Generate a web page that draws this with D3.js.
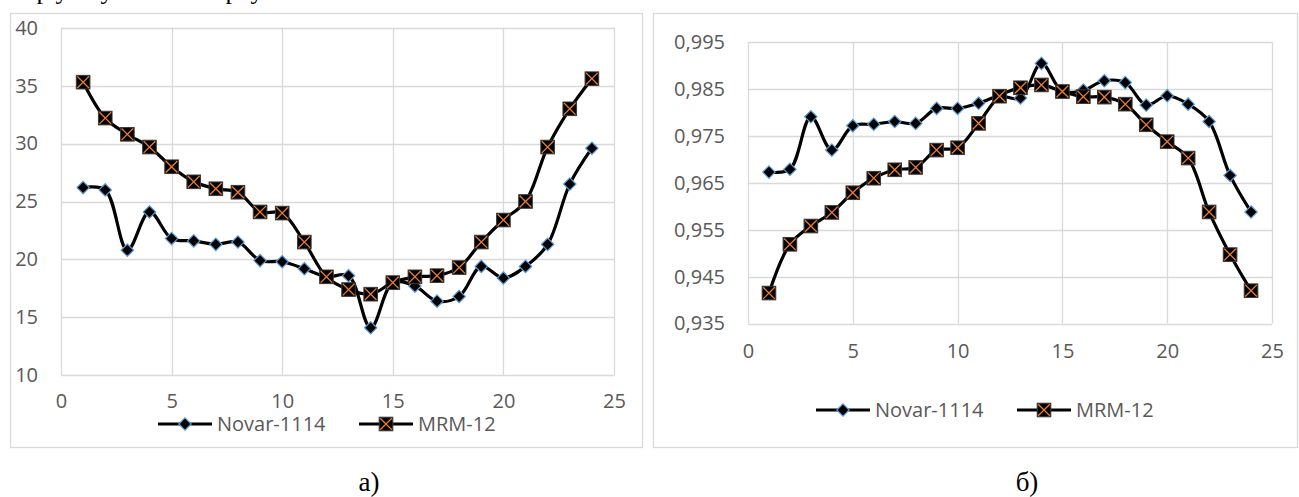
<!DOCTYPE html>
<html><head><meta charset="utf-8">
<script src="https://cdn.jsdelivr.net/npm/d3@7"></script>
<style>
html,body{margin:0;padding:0;background:#fff;}
svg{display:block;}
</style></head>
<body>
<svg id="chart" width="1299" height="497"></svg>
<script>
// ---- data ----
const hours = d3.range(1, 25);
const seriesNames = ["Novar-1114", "MRM-12"];
// panel a)
const novarA = [26.2,26.0,20.8,24.1,21.8,21.6,21.3,21.5,19.9,19.8,19.2,18.5,18.6,14.1,18.0,17.7,16.4,16.8,19.4,18.4,19.4,21.3,26.5,29.6];
const mrmA   = [35.3,32.2,30.8,29.7,28.0,26.7,26.1,25.8,24.1,24.0,21.5,18.5,17.4,17.0,18.0,18.5,18.6,19.3,21.5,23.4,25.0,29.7,33.0,35.6];
// panel б)
const novarB = [0.9673,0.9679,0.9791,0.9720,0.9772,0.9775,0.9781,0.9777,0.9809,0.9809,0.9820,0.9835,0.9831,0.9905,0.9845,0.9848,0.9868,0.9864,0.9816,0.9836,0.9818,0.9781,0.9666,0.9588];
const mrmB   = [0.9415,0.9519,0.9558,0.9587,0.9629,0.9660,0.9678,0.9683,0.9720,0.9725,0.9777,0.9835,0.9853,0.9859,0.9845,0.9834,0.9833,0.9818,0.9774,0.9738,0.9703,0.9588,0.9497,0.9420];
const xTicks = [0,5,10,15,20,25];
const yTicksA = [10,15,20,25,30,35,40];
const yTicksB = [0.935,0.945,0.955,0.965,0.975,0.985,0.995];
const captions = ["а)", "б)"];

const svg = d3.select("#chart");
const GRID = "#d9d9d9", TXT = "#595959", FONT = "'Open Sans', 'Liberation Sans', sans-serif";

// cropped line of body text above the charts (only descenders visible)
const topFrag = [["р",43],["у",62],["у",107],["р",232],["у",257]];
svg.selectAll("text.topfrag").data(topFrag).join("text")
  .attr("class","topfrag").attr("x",d=>d[1]).attr("y",-1)
  .attr("text-anchor","middle").attr("font-family","'Liberation Serif', serif")
  .attr("font-size",26).attr("fill","#000").text(d=>d[0]);

function panel(cfg){
  const g = svg.append("g");
  g.append("rect").attr("x",cfg.bx+0.5).attr("y",13.5).attr("width",cfg.bw).attr("height",434)
    .attr("fill","#fff").attr("stroke",GRID).attr("stroke-width",1.3);
  const x = d3.scaleLinear().domain([0,25]).range(cfg.xr);
  const y = d3.scaleLinear().domain(cfg.yd).range(cfg.yr);
  // gridlines
  g.append("g").selectAll("line").data(cfg.yTicks).join("line")
    .attr("x1",x(0)).attr("x2",x(25)).attr("y1",d=>Math.round(y(d))+0.5).attr("y2",d=>Math.round(y(d))+0.5)
    .attr("stroke",GRID).attr("stroke-width",1.3);
  g.append("g").selectAll("line").data(xTicks).join("line")
    .attr("y1",y(cfg.yd[0])).attr("y2",y(cfg.yd[1])).attr("x1",d=>Math.round(x(d))+0.5).attr("x2",d=>Math.round(x(d))+0.5)
    .attr("stroke",GRID).attr("stroke-width",1.3);
  // axes with d3 axis generators (labels only)
  const yAxis = d3.axisLeft(y).tickValues(cfg.yTicks).tickSize(0).tickPadding(cfg.yPad).tickFormat(cfg.fmt);
  const ya = g.append("g").attr("transform",`translate(${x(0)},0)`).call(yAxis);
  const xAxis = d3.axisBottom(x).tickValues(xTicks).tickSize(0).tickPadding(cfg.xPad).tickFormat(d3.format("d"));
  const xa = g.append("g").attr("transform",`translate(0,${y(cfg.yd[0])})`).call(xAxis);
  [ya,xa].forEach(a=>{
    a.select(".domain").remove();
    a.selectAll("text").attr("font-family",FONT).attr("font-size",20).attr("fill",TXT);
  });
  // series
  const line = d3.line().x((d,i)=>x(hours[i])).y(d=>y(d)).curve(d3.curveCatmullRom.alpha(0.5));
  [cfg.novar, cfg.mrm].forEach(vals=>{
    g.append("path").datum(vals).attr("d",line).attr("fill","none").attr("stroke","#000").attr("stroke-width",3.2);
  });
  const gm = g.append("g");
  cfg.novar.forEach((v,i)=>diamond(gm, x(hours[i]), y(v)));
  cfg.mrm.forEach((v,i)=>square(gm, x(hours[i]), y(v)));
  // legend
  const lg = g.append("g");
  const L = cfg.legend;
  lg.append("line").attr("x1",L.x1).attr("x2",L.x1+54).attr("y1",L.y).attr("y2",L.y).attr("stroke","#000").attr("stroke-width",3.2);
  diamond(lg, L.x1+27, L.y);
  lg.append("text").attr("x",L.x1+59).attr("y",L.y).attr("dy","0.35em").attr("font-family",FONT).attr("font-size",20).attr("fill",TXT).text(seriesNames[0]);
  lg.append("line").attr("x1",L.x2).attr("x2",L.x2+54).attr("y1",L.y).attr("y2",L.y).attr("stroke","#000").attr("stroke-width",3.2);
  square(lg, L.x2+27, L.y);
  lg.append("text").attr("x",L.x2+59).attr("y",L.y).attr("dy","0.35em").attr("font-family",FONT).attr("font-size",20).attr("fill",TXT).text(seriesNames[1]);
  // caption
  svg.append("text").attr("x",cfg.capX).attr("y",491).attr("text-anchor","middle")
    .attr("font-family","'Liberation Serif', 'Times New Roman', serif").attr("font-size",27).attr("fill","#000").text(cfg.caption);
}
function diamond(g, cx, cy){
  const r = 6.2;
  g.append("path").attr("d",`M${cx},${cy-r}L${cx+r},${cy}L${cx},${cy+r}L${cx-r},${cy}Z`)
    .attr("fill","#000").attr("stroke","#5b9bd5").attr("stroke-width",1.2);
}
function square(g, cx, cy){
  const h = 6.8;
  g.append("rect").attr("x",cx-h).attr("y",cy-h).attr("width",2*h).attr("height",2*h)
    .attr("fill","#000").attr("stroke","#3a3a3a").attr("stroke-width",1);
  const k = h-1;
  g.append("path").attr("d",`M${cx-k},${cy-k}L${cx+k},${cy+k}M${cx+k},${cy-k}L${cx-k},${cy+k}`)
    .attr("stroke","#ed7d31").attr("stroke-width",1.3).attr("fill","none");
}

panel({bx:10, bw:632, xr:[61,614], yd:[10,40], yr:[375.3,27.7], yTicks:yTicksA, fmt:d3.format("d"),
  yPad:23, xPad:19, novar:novarA, mrm:mrmA, legend:{x1:158, x2:359, y:424}, capX:369, caption:captions[0]});
const commaFmt = d=>d3.format(".3f")(d).replace(".",",");
panel({bx:653, bw:644, xr:[748,1272], yd:[0.935,0.995], yr:[323.5,42.3], yTicks:yTicksB, fmt:commaFmt,
  yPad:23, xPad:20, novar:novarB, mrm:mrmB, legend:{x1:816, x2:1017, y:410}, capX:1027, caption:captions[1]});
</script>
</body></html>
